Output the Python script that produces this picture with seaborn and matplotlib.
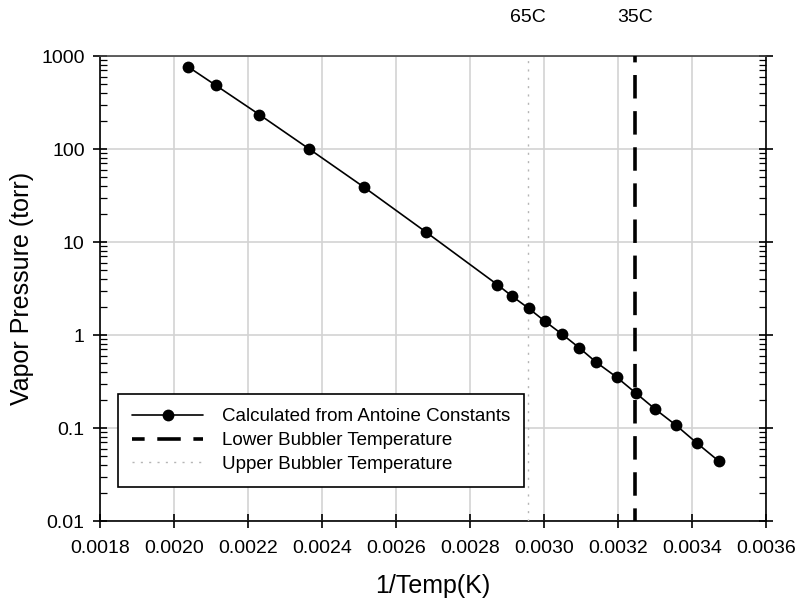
import numpy as np
import pandas as pd
import seaborn as sns
import matplotlib.pyplot as plt
from matplotlib.ticker import FixedLocator, FuncFormatter, LogLocator, NullFormatter

# Data
inv_temp = [0.002039, 0.002113, 0.002231, 0.002364, 0.002513, 0.002681,
            0.002874, 0.002914, 0.002959, 0.003003, 0.003049, 0.003095,
            0.003141, 0.003196, 0.003248, 0.003301, 0.003357, 0.003413,
            0.003472]
vapor_pressure = [762, 484, 234, 101, 39, 12.8,
                  3.48, 2.61, 1.93, 1.40, 1.02, 0.73,
                  0.51, 0.353, 0.238, 0.159, 0.107, 0.069,
                  0.0442]
lower_bubbler = 0.003245   # 35C
upper_bubbler = 0.002957   # 65C
bubbler_labels = ['65C', '35C']
x_ticks = [0.0018, 0.0020, 0.0022, 0.0024, 0.0026, 0.0028, 0.0030, 0.0032, 0.0034, 0.0036]
y_ticks = [0.01, 0.1, 1, 10, 100, 1000]

df = pd.DataFrame({'inv_temp': inv_temp, 'pressure': vapor_pressure})

sns.set_style('white')
plt.rcParams['font.family'] = ['Liberation Sans', 'DejaVu Sans']
plt.rcParams['text.color'] = 'black'
plt.rcParams['axes.labelcolor'] = 'black'
plt.rcParams['xtick.color'] = 'black'
plt.rcParams['ytick.color'] = 'black'

fig = plt.figure(figsize=(8, 6.05), dpi=100)
ax = fig.add_axes([0.125, 0.1388, 0.8325, 0.7686])

sns.lineplot(data=df, x='inv_temp', y='pressure', ax=ax, color='black',
             linewidth=1.2, marker='o', markersize=8.5, markeredgewidth=0,
             label='Calculated from Antoine Constants', zorder=5)
ax.axvline(lower_bubbler, color='black', linewidth=2.6, linestyle=(3, (6.5, 3.5)),
           label='Lower Bubbler Temperature', zorder=4)
ax.axvline(upper_bubbler, color='#b5b5b5', linewidth=1.0, linestyle=(0, (1.5, 4.5)),
           label='Upper Bubbler Temperature', zorder=4)

ax.set_yscale('log')
ax.set_xlim(0.0018, 0.0036)
ax.set_ylim(0.01, 1000)

ax.xaxis.set_major_locator(FixedLocator(x_ticks))
ax.xaxis.set_major_formatter(FuncFormatter(lambda v, p: f'{v:.4f}'))
ax.yaxis.set_major_locator(FixedLocator(y_ticks))
ax.yaxis.set_major_formatter(FuncFormatter(lambda v, p: f'{v:g}'))
ax.yaxis.set_minor_locator(LogLocator(base=10, subs=np.arange(2, 10)))
ax.yaxis.set_minor_formatter(NullFormatter())

ax.grid(True, which='major', color='#d3d3d3', linewidth=1.2)
ax.set_axisbelow(True)

for side in ['left', 'bottom', 'right']:
    ax.spines[side].set_color('black')
    ax.spines[side].set_linewidth(1.2)
ax.spines['top'].set_color('#444444')
ax.spines['top'].set_linewidth(1.2)

ax.tick_params(axis='both', which='major', direction='inout', length=10,
               width=1.2, labelsize=14, color='black', labelcolor='black', pad=6)
ax.tick_params(axis='x', which='major', pad=9)
ax.tick_params(axis='y', which='minor', direction='in', length=5, width=0.9)
ax.tick_params(axis='y', which='both', left=True, right=True)
ax.tick_params(axis='x', which='both', bottom=True, top=False)

ax.set_xlabel('1/Temp(K)', fontsize=18, labelpad=12, color='black')
ax.set_ylabel('Vapor Pressure (torr)', fontsize=18, labelpad=5, color='black')

# temperature labels above the bubbler lines
for xv, lab in zip([upper_bubbler, lower_bubbler], bubbler_labels):
    ax.text(xv, 1.082, lab, transform=ax.get_xaxis_transform(),
            ha='center', va='center', fontsize=14, color='black')

leg = ax.legend(loc='lower left', bbox_to_anchor=(0.027, 0.073), borderaxespad=0,
                fontsize=13.5, frameon=True, fancybox=False, handlelength=3.8,
                handletextpad=1.0, borderpad=0.75, labelspacing=0.36)
leg.get_frame().set_edgecolor('black')
leg.get_frame().set_linewidth(1.2)
leg.get_frame().set_alpha(1)
for t in leg.get_texts():
    t.set_color('black')

plt.savefig('out.png', dpi=100)
plt.close()
